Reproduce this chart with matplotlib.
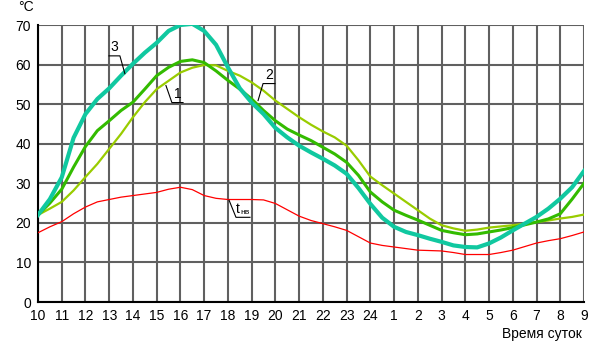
import numpy as np
import matplotlib
matplotlib.use('Agg')
import matplotlib.pyplot as plt

plt.rcParams['font.family'] = ['Liberation Sans', 'DejaVu Sans']

# time of day, hours from 10:00 to 9:00 next morning (half-hour steps)
hours = np.arange(10, 33.5, 0.5)

# 1 - yellow-green curve
t1 = [22, 23.6, 25.3, 28.2, 31.6, 34.9, 38.7, 42.5, 46.7, 50.5, 53.8, 55.9,
      58, 59.2, 59.9, 59.8, 58.4, 57.2, 55.5, 53.4, 50.9, 48.8, 46.7, 44.8,
      43.1, 41.6, 39.5, 35.8, 31.7, 29.5, 27.4, 25.3, 23.2, 21.1, 19.4, 18.6,
      18, 18.3, 18.8, 19.1, 19.4, 19.8, 20.2, 20.6, 21.1, 21.5, 22.1]
# 2 - green curve
t2 = [22, 25, 28.5, 34.1, 39.3, 43.3, 45.8, 48.4, 50.5, 53.8, 57.2, 59.3,
      60.8, 61.2, 60.5, 58.4, 56, 53.8, 51.3, 48.4, 45.8, 43.7, 42.2, 40.8,
      39.1, 37.4, 35.3, 32, 27.8, 25.3, 23.2, 21.9, 20.7, 19.4, 18.1, 17.5,
      17, 17.2, 17.7, 18.2, 18.8, 19.5, 20.2, 21, 22.3, 26, 30]
# 3 - turquoise curve
t3 = [22, 26, 31.5, 41.5, 47.5, 51.3, 54, 57.2, 60.2, 63, 65.5, 68.5,
      70, 70.3, 68.5, 65, 59.3, 54, 50.4, 47.5, 44, 41.6, 39.5, 37.8,
      36.2, 34.5, 32.4, 28.8, 24.8, 21.3, 19, 17.7, 16.9, 16, 15.2, 14.3,
      13.9, 13.8, 14.8, 16.3, 18.1, 19.8, 21.5, 23.6, 26.1, 29, 33.1]
# outdoor air temperature t_нв
t_nv = [17.5, 19, 20.3, 22.3, 24, 25.3, 25.9, 26.5, 26.9, 27.3, 27.7, 28.5,
        29, 28.4, 26.9, 26.2, 25.9, 25.9, 25.9, 25.8, 24.9, 23.3, 21.7, 20.6,
        19.8, 19, 18.1, 16.5, 14.9, 14.3, 13.9, 13.5, 13.1, 13, 12.9, 12.5,
        12, 12, 12, 12.5, 13.1, 14, 14.9, 15.5, 16, 16.8, 17.7]

tick_pos = list(range(10, 34))
tick_lbl = [str(h if h <= 24 else h - 24) for h in tick_pos]
y_ticks = [0, 10, 20, 30, 40, 50, 60, 70]

fig = plt.figure(figsize=(6.03, 3.46), dpi=100)
ax = fig.add_axes([38 / 603, 44 / 346, 546 / 603, 277 / 346])

ax.set_xlim(10, 33)
ax.set_ylim(0, 70)
ax.set_xticks(tick_pos)
ax.set_xticklabels(tick_lbl)
ax.set_yticks(y_ticks)
ax.grid(True, color='#606060', linewidth=1.5)
ax.set_axisbelow(True)
ax.tick_params(length=0, labelsize=10)
ax.tick_params(axis='x', pad=5)
ax.tick_params(axis='y', pad=5)
for s in ['top', 'right']:
    ax.spines[s].set_visible(False)
for s in ['left', 'bottom']:
    ax.spines[s].set_color('black')
    ax.spines[s].set_linewidth(1.5)

ax.plot(hours, t_nv, color='#ff0000', linewidth=0.9, zorder=3)
ax.plot(hours, t1, color='#99cc00', linewidth=1.6, zorder=4)
ax.plot(hours, t2, color='#33bb00', linewidth=2.2, zorder=5)
ax.plot(hours, t3, color='#10c8a0', linewidth=3.0, zorder=6)

# curve labels with leaders
lk = dict(color='black', linewidth=0.8, zorder=7, clip_on=False)
ax.plot([12.99, 13.45, 13.66], [62.2, 62.2, 57.7], **lk)
ax.text(13.22, 62.6, '3', fontsize=10, ha='center', va='bottom')
ax.plot([15.39, 15.64, 16.11], [54.7, 50.4, 50.4], **lk)
ax.text(15.88, 50.8, '1', fontsize=10, ha='center', va='bottom')
ax.plot([19.27, 19.48, 19.98], [50.9, 55.2, 55.2], **lk)
ax.text(19.73, 55.6, '2', fontsize=10, ha='center', va='bottom')
ax.plot([18.05, 18.34, 18.93], [25.7, 21.4, 21.4], **lk)
ax.text(18.42, 21.8, 't', fontsize=10, ha='center', va='bottom')
ax.text(18.72, 21.8, 'нв', fontsize=6, ha='center', va='bottom')

fig.text(26 / 603, 1 - 7 / 346, '°C', fontsize=10, ha='center', va='center')
fig.text(542 / 603, 1 - 334 / 346, 'Время суток', fontsize=10,
         ha='center', va='center')

fig.savefig('out.png', dpi=100, facecolor='white')
